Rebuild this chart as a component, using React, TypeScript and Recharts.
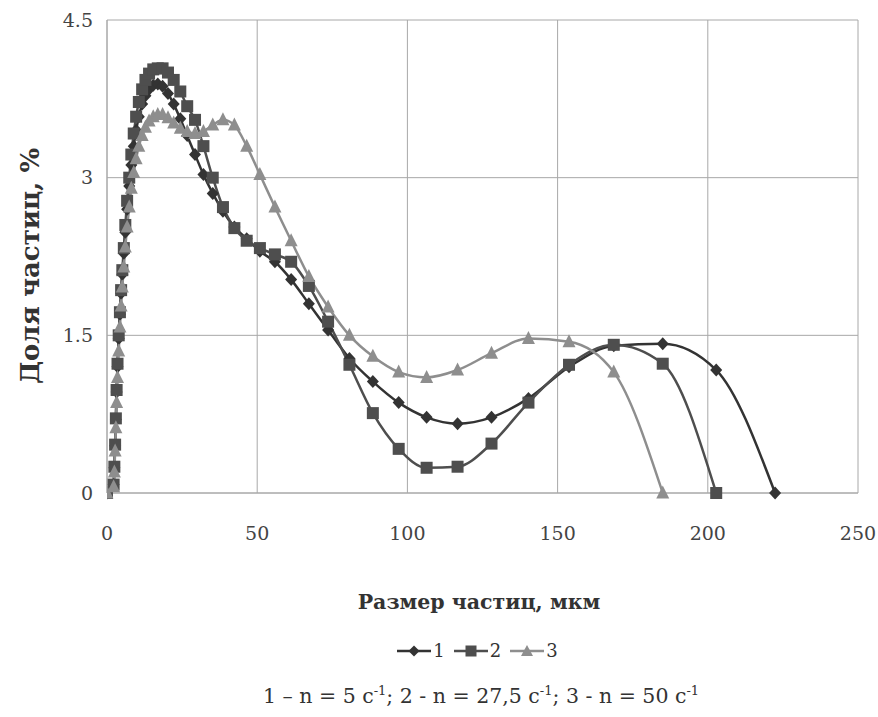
import { CartesianGrid, Line, LineChart, XAxis, YAxis } from "recharts";

// particle size classes, µm
const sizes = [
  0, 2.2, 2.45, 2.7, 2.95, 3.2, 3.5, 3.9, 4.3, 4.7, 5.1, 5.6, 6.1, 6.7, 7.4, 8.1, 8.9, 9.7, 10.6,
  11.7, 12.8, 14.0, 15.4, 16.9, 18.5, 20.3, 22.2, 24.4, 26.7, 29.3, 32.1, 35.2, 38.6, 42.4, 46.5,
  50.9, 55.9, 61.3, 67.2, 73.6, 80.7, 88.5, 97.1, 106.4, 116.7, 128.0, 140.3, 153.8, 168.7, 185.0,
  202.8, 222.4,
];

// 1 - n = 5 c-1
const share1 = [
  0, 0.08, 0.24, 0.45, 0.7, 0.96, 1.2, 1.47, 1.7, 1.9, 2.08, 2.28, 2.48, 2.7, 2.92, 3.12, 3.3, 3.45,
  3.58, 3.7, 3.78, 3.84, 3.88, 3.89, 3.87, 3.8, 3.7, 3.56, 3.4, 3.22, 3.03, 2.85, 2.68, 2.53, 2.42,
  2.3, 2.2, 2.03, 1.8, 1.55, 1.28, 1.06, 0.86, 0.72, 0.66, 0.72, 0.9, 1.2, 1.4, 1.42, 1.17, 0,
];

// 2 - n = 27,5 c-1
const share2 = [
  0, 0.08, 0.25, 0.46, 0.71, 0.98, 1.23, 1.5, 1.72, 1.93, 2.12, 2.33, 2.55, 2.78, 3.0, 3.22, 3.42,
  3.58, 3.72, 3.84, 3.93, 3.99, 4.03, 4.04, 4.04, 4.0, 3.93, 3.82, 3.68, 3.55, 3.3, 3.0, 2.72, 2.52,
  2.4, 2.33, 2.27, 2.2, 1.97, 1.63, 1.22, 0.76, 0.42, 0.24, 0.25, 0.47, 0.86, 1.22, 1.41, 1.23, 0,
];

// 3 - n = 50 c-1
const share3 = [
  0, 0.06, 0.2, 0.4, 0.62, 0.86, 1.1, 1.35, 1.58, 1.78, 1.96, 2.15, 2.34, 2.53, 2.72, 2.9, 3.05,
  3.18, 3.3, 3.4, 3.48, 3.54, 3.58, 3.6, 3.6, 3.57, 3.52, 3.47, 3.44, 3.42, 3.44, 3.5, 3.55, 3.5,
  3.3, 3.03, 2.72, 2.4, 2.06, 1.77, 1.5, 1.3, 1.15, 1.1, 1.17, 1.33, 1.47, 1.44, 1.15, 0,
];

const xTicks = [0, 50, 100, 150, 200, 250];
const yTicks = [0, 1.5, 3, 4.5];

const toRows = (vals: number[]) => vals.map((v, i) => ({ size: sizes[i], share: v }));

const FONT = "DejaVu Serif";
const C1 = "#333333";
const C2 = "#4e4e4e";
const C3 = "#8e8e8e";

const diamond = (color: string) => (p: any) => {
  if (p.cx == null || p.cy == null) return <g key={`d-${p.index}`} />;
  const { cx, cy } = p;
  return (
    <path
      key={`d-${p.index}`}
      d={`M${cx},${cy - 6.5}L${cx + 6},${cy}L${cx},${cy + 6.5}L${cx - 6},${cy}Z`}
      fill={color}
    />
  );
};

const square = (color: string) => (p: any) => {
  if (p.cx == null || p.cy == null) return <g key={`s-${p.index}`} />;
  return <rect key={`s-${p.index}`} x={p.cx - 6} y={p.cy - 6} width={12} height={12} fill={color} />;
};

const triangle = (color: string) => (p: any) => {
  if (p.cx == null || p.cy == null) return <g key={`t-${p.index}`} />;
  const { cx, cy } = p;
  return (
    <path
      key={`t-${p.index}`}
      d={`M${cx},${cy - 7.5}L${cx + 6.5},${cy + 5.5}L${cx - 6.5},${cy + 5.5}Z`}
      fill={color}
    />
  );
};

function LegendItem({ label, color, kind }: { label: string; color: string; kind: string }) {
  return (
    <span style={{ display: "inline-flex", alignItems: "center", marginRight: 9 }}>
      <svg width={34} height={14}>
        <line x1={0} y1={7} x2={34} y2={7} stroke={color} strokeWidth={2.5} />
        {kind === "d" && <path d="M17,1.5L22.5,7L17,12.5L11.5,7Z" fill={color} />}
        {kind === "s" && <rect x={11.5} y={1.5} width={11} height={11} fill={color} />}
        {kind === "t" && <path d="M17,1L23,12L11,12Z" fill={color} />}
      </svg>
      <span style={{ marginLeft: 2 }}>{label}</span>
    </span>
  );
}

export default function App() {
  return (
    <div style={{ position: "absolute", left: 0, top: 0, width: 878, height: 717, background: "#fff", fontFamily: FONT, color: "#333" }}>
      <LineChart
        width={878}
        height={560}
        margin={{ top: 20, right: 20, left: 67, bottom: 27 }}
      >
        <CartesianGrid stroke="#a8a8a8" strokeWidth={1} />
        <XAxis
          dataKey="size"
          type="number"
          domain={[0, 250]}
          ticks={xTicks}
          height={40}
          axisLine={{ stroke: "#a8a8a8" }}
          tickLine={false}
          tickMargin={28}
          tick={{ fontSize: 19, fontFamily: FONT, fill: "#444" }}
          allowDataOverflow
        />
        <YAxis
          type="number"
          domain={[0, 4.5]}
          ticks={yTicks}
          width={40}
          axisLine={{ stroke: "#a8a8a8" }}
          tickLine={false}
          tickMargin={8}
          tick={{ fontSize: 19, fontFamily: FONT, fill: "#444" }}
        />
        <Line
          data={toRows(share1)}
          dataKey="share"
          type="monotone"
          stroke={C1}
          strokeWidth={2.5}
          dot={diamond(C1)}
          activeDot={false}
          isAnimationActive={false}
        />
        <Line
          data={toRows(share2)}
          dataKey="share"
          type="monotone"
          stroke={C2}
          strokeWidth={2.5}
          dot={square(C2)}
          activeDot={false}
          isAnimationActive={false}
        />
        <Line
          data={toRows(share3)}
          dataKey="share"
          type="monotone"
          stroke={C3}
          strokeWidth={2.5}
          dot={triangle(C3)}
          activeDot={false}
          isAnimationActive={false}
        />
      </LineChart>
      <div
        style={{
          position: "absolute",
          left: 30,
          top: 266,
          transform: "translate(-50%, -50%) rotate(-90deg)",
          whiteSpace: "nowrap",
          fontWeight: "bold",
          fontSize: 26,
        }}
      >
        Доля частиц, %
      </div>
      <div style={{ position: "absolute", left: 0, width: 958, top: 590, textAlign: "center", fontWeight: "bold", fontSize: 20.5 }}>
        Размер частиц, мкм
      </div>
      <div style={{ position: "absolute", left: 0, width: 964, top: 640, textAlign: "center", fontSize: 18, display: "flex", justifyContent: "center" }}>
        <LegendItem label="1" color={C1} kind="d" />
        <LegendItem label="2" color={C2} kind="s" />
        <LegendItem label="3" color={C3} kind="t" />
      </div>
      <div style={{ position: "absolute", left: 0, width: 962, top: 683, textAlign: "center", fontSize: 20.5 }}>
        1 – n = 5 c<sup style={{ fontSize: 13 }}>-1</sup>; 2 - n = 27,5 c<sup style={{ fontSize: 13 }}>-1</sup>; 3 - n = 50 c
        <sup style={{ fontSize: 13 }}>-1</sup>
      </div>
    </div>
  );
}
